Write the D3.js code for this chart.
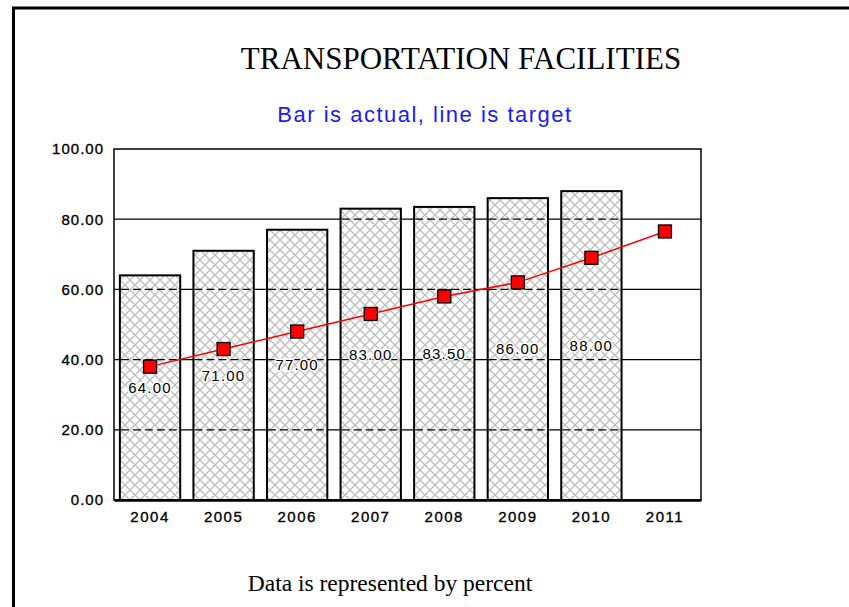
<!DOCTYPE html>
<html>
<head>
<meta charset="utf-8">
<script src="https://cdn.jsdelivr.net/npm/d3@7"></script>
<style>
  body { margin: 0; background: #fff; }
  svg { display: block; }
</style>
</head>
<body>
<svg id="chart" width="849" height="607"></svg>
<script>
// -- chart data -- //
let years = ["2004", "2005", "2006", "2007", "2008", "2009", "2010", "2011"];
let actual = [64, 71, 77, 83, 83.5, 86, 88, null];
let target = [38, 43, 48, 53, 58, 62, 69, 76.5];
let yTicks = [0, 20, 40, 60, 80, 100];

let svg = d3.select("#chart");
let sans = "'Liberation Sans', Arial, sans-serif";
let serif = "'Liberation Serif', 'Times New Roman', serif";

// -- outer frame (left + top only) -- //
svg.append("path")
    .attr("d", "M13.5,607 L13.5,8 L849,8")
    .attr("fill", "none")
    .attr("stroke", "black")
    .attr("stroke-width", 3);

// -- titles -- //
svg.append("text")
    .attr("x", 461).attr("y", 69)
    .attr("text-anchor", "middle")
    .style("font-family", serif)
    .style("font-size", "31px")
    .text("TRANSPORTATION FACILITIES");

svg.append("text")
    .attr("x", 425).attr("y", 122)
    .attr("text-anchor", "middle")
    .style("font-family", sans)
    .style("font-size", "22px")
    .style("letter-spacing", "1.5px")
    .style("fill", "#1a1aff")
    .text("Bar is actual, line is target");

svg.append("text")
    .attr("x", 390).attr("y", 591)
    .attr("text-anchor", "middle")
    .style("font-family", serif)
    .style("font-size", "23.5px")
    .text("Data is represented by percent");

// -- scales -- //
let plotLeft = 114, plotRight = 701, plotTop = 149, plotBottom = 500;
let xScale = d3.scaleBand().domain(years).range([plotLeft, plotRight]).paddingInner(0.18).paddingOuter(0.08);
let yScale = d3.scaleLinear().domain([0, 100]).range([plotBottom, plotTop]);

// -- hatch pattern -- //
let defs = svg.append("defs");
let pat = defs.append("pattern")
    .attr("id", "hatch")
    .attr("patternUnits", "userSpaceOnUse")
    .attr("width", 10).attr("height", 10);
pat.append("rect").attr("width", 10).attr("height", 10).attr("fill", "white");
pat.append("path")
    .attr("d", "M0,0 L10,10 M10,0 L0,10")
    .attr("stroke", "#bdbdbd")
    .attr("stroke-width", 1.3);

let plot = svg.append("g");

// -- solid grid lines -- //
plot.selectAll(".grid")
    .data(yTicks.filter(d => d > 0 && d < 100))
    .enter()
    .append("line")
    .attr("class", "grid")
    .attr("x1", plotLeft).attr("x2", plotRight)
    .attr("y1", d => yScale(d)).attr("y2", d => yScale(d))
    .attr("stroke", "black")
    .attr("stroke-width", 1.3);

// -- bars -- //
let barData = years.map((y, i) => ({ year: y, value: actual[i] })).filter(d => d.value !== null);
plot.selectAll(".bar")
    .data(barData)
    .enter()
    .append("rect")
    .attr("class", "bar")
    .attr("x", d => xScale(d.year))
    .attr("y", d => yScale(d.value))
    .attr("width", xScale.bandwidth())
    .attr("height", d => yScale(0) - yScale(d.value))
    .style("fill", "url(#hatch)")
    .style("stroke", "black")
    .style("stroke-width", 2);

// -- dashed grid lines seen through the bars -- //
barData.forEach(b => {
    plot.selectAll(null)
        .data(yTicks.filter(t => t > 0 && t < b.value))
        .enter()
        .append("line")
        .attr("x1", xScale(b.year) + 1).attr("x2", xScale(b.year) + xScale.bandwidth() - 1)
        .attr("y1", t => yScale(t)).attr("y2", t => yScale(t))
        .attr("stroke", "black")
        .attr("stroke-width", 1.3)
        .attr("stroke-dasharray", "8,4");
});

// -- plot frame -- //
plot.append("rect")
    .attr("x", plotLeft).attr("y", plotTop)
    .attr("width", plotRight - plotLeft).attr("height", plotBottom - plotTop)
    .attr("fill", "none")
    .attr("stroke", "black")
    .attr("stroke-width", 1.5);

// -- axes -- //
let yAxis = d3.axisLeft(yScale).tickValues(yTicks).tickSize(0).tickPadding(10).tickFormat(d3.format(".2f"));
let xAxis = d3.axisBottom(xScale).tickSize(0).tickPadding(11);

let gy = svg.append("g")
    .attr("transform", `translate(${plotLeft}, 0)`)
    .call(yAxis);
gy.select(".domain").remove();
gy.selectAll("text")
    .style("font-family", sans)
    .style("font-size", "15px")
    .style("letter-spacing", "1px")
    .style("fill", "black")
    .style("stroke", "black")
    .style("stroke-width", 0.35);

let gx = svg.append("g")
    .attr("transform", `translate(0, ${plotBottom})`)
    .call(xAxis);
gx.select(".domain").attr("stroke-width", 2.5);
gx.selectAll("text")
    .style("font-family", sans)
    .style("font-size", "15px")
    .style("letter-spacing", "1.5px")
    .style("fill", "black")
    .style("stroke", "black")
    .style("stroke-width", 0.35);

// -- bar value labels (at half bar height) -- //
plot.selectAll(".val")
    .data(barData)
    .enter()
    .append("text")
    .attr("class", "val")
    .attr("x", d => xScale(d.year) + xScale.bandwidth() / 2)
    .attr("y", d => yScale(d.value / 2))
    .attr("dy", "0.35em")
    .attr("text-anchor", "middle")
    .style("font-family", sans)
    .style("font-size", "15px")
    .style("letter-spacing", "1.2px")
    .style("paint-order", "stroke")
    .style("stroke", "white")
    .style("stroke-width", 3)
    .style("fill", "black")
    .text(d => d3.format(".2f")(d.value));

// -- target line -- //
let lineData = years.map((y, i) => ({ year: y, value: target[i] }));
let cx = d => xScale(d.year) + xScale.bandwidth() / 2;
plot.append("path")
    .datum(lineData)
    .attr("d", d3.line().x(cx).y(d => yScale(d.value)))
    .attr("fill", "none")
    .attr("stroke", "red")
    .attr("stroke-width", 1.5);

plot.selectAll(".pt")
    .data(lineData)
    .enter()
    .append("rect")
    .attr("class", "pt")
    .attr("x", d => cx(d) - 6.5)
    .attr("y", d => yScale(d.value) - 6.5)
    .attr("width", 13).attr("height", 13)
    .style("fill", "red")
    .style("stroke", "black")
    .style("stroke-width", 1.3);
</script>
</body>
</html>
